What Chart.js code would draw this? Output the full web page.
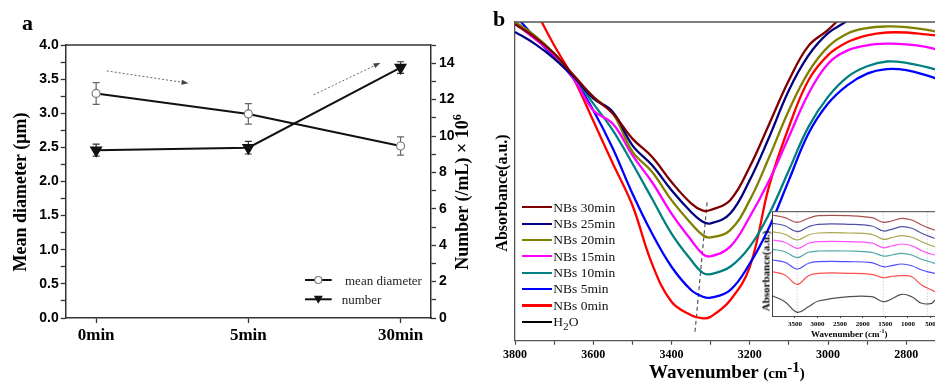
<!DOCTYPE html>
<html>
<head>
<meta charset="utf-8">
<script src="https://cdn.jsdelivr.net/npm/chart.js@4.4.0/dist/chart.umd.min.js"></script>
<style>
  html, body { margin: 0; padding: 0; background: #fff; overflow: hidden; }
  #wrap { position: relative; width: 935px; height: 386px; overflow: hidden; }
  canvas { position: absolute; }
  .t { position: absolute; font-family: "Liberation Serif", "Times New Roman", serif; white-space: nowrap; color: #000; line-height: 1; }
  .bd { font-weight: bold; }
  .rot { transform: translate(-50%, -50%) rotate(-90deg); }
  .lg { position: absolute; height: 2.2px; }
  sup, sub { line-height: 0; }
</style>
</head>
<body>
<div id="wrap">
  <canvas id="chartA" width="490" height="386" style="left:0;top:0"></canvas>
  <canvas id="chartB" width="475" height="386" style="left:490px;top:0"></canvas>
  <canvas id="chartInset" width="185" height="140" style="left:750px;top:200px"></canvas>

  <div class="t bd" style="left:22px;top:11.5px;font-size:22px">a</div>
  <div class="t bd" style="left:493px;top:8.3px;font-size:22px">b</div>

  <div class="t bd rot" style="left:20px;top:192px;font-size:18px">Mean diameter (μm)</div>
  <div class="t bd rot" style="left:462px;top:192px;font-size:18px">Number (/mL) × 10<sup style="font-size:12px">6</sup></div>
  <div class="t" style="left:345px;top:273.5px;font-size:13px;color:#222">mean diameter</div>
  <div class="t" style="left:341.7px;top:292.8px;font-size:13px;color:#222">number</div>

  <div class="t bd rot" style="left:502px;top:193px;font-size:16px">Absorbance(a.u.)</div>
  <div class="t bd" style="left:649px;top:362px;font-size:19px">Wavenumber <span style="font-size:15px">(cm<sup style="font-size:15px">-1</sup>)</span></div>

  <div id="legendB"></div>

  <div class="t bd rot" style="left:766px;top:271px;font-size:11px">Absorbance(a.u.)</div>
  <div class="t bd" style="left:811px;top:329.5px;font-size:9px">Wavenumber (cm<sup style="font-size:6px">-1</sup>)</div>
</div>

<script>
// panel a: bubble size and count over time
const timeLabels = ["0min", "5min", "30min"];
const meanDiameter = [3.29, 2.99, 2.52];
const meanDiameterErr = [0.16, 0.15, 0.135];
const bubbleNumber = [9.22, 9.36, 13.76];
const bubbleNumberErr = [0.33, 0.35, 0.32];

// panel b: FTIR spectra, O-H band
const wavenumber = [3800, 3750, 3700, 3650, 3600, 3550, 3500, 3450, 3400, 3350, 3320, 3300,
  3250, 3200, 3150, 3100, 3050, 3000, 2950, 2900, 2850, 2800, 2750, 2700];
const nbs30 = [99.3, 95.3, 90.1, 83.3, 76.5, 71.3, 63.4, 57.7, 49.8, 43.1, 40.8, 41.0,
  44.1, 54.6, 68.1, 81.7, 92.5, 97.5, 103.5, 109, 114, 118, 121, 124];
const nbs25 = [96.9, 93.2, 88.5, 82.8, 76.0, 71.8, 61.3, 55.1, 47.2, 40.4, 37.3, 36.8,
  39.9, 50.4, 64.0, 78.6, 89.5, 96.5, 100.5, 106, 111, 115, 118.5, 122];
const nbs20 = [100, 95.8, 90.1, 82.8, 76.5, 71.3, 59.3, 53.0, 44.1, 36.8, 33.1, 32.4,
  34.7, 44.1, 57.7, 72.3, 84.3, 92.2, 96.4, 98.1, 98.6, 98.4, 97.6, 96.4];
const nbs15 = [99.5, 94.8, 89.6, 82.2, 72.3, 68.1, 58.2, 49.8, 39.9, 31.6, 27.2, 26.5,
  29.5, 38.9, 50.4, 64.0, 77.5, 86.9, 91.1, 92.7, 93.2, 93.0, 92.2, 90.6];
const nbs10 = [100, 95.3, 90.1, 82.8, 74.4, 66.0, 55.6, 44.6, 33.6, 25.3, 21.3, 20.9,
  23.2, 29.5, 39.9, 53.5, 67.1, 76.5, 82.8, 86.1, 87.6, 87.2, 85.9, 84.3];
const nbs5 = [102.1, 95.3, 89.0, 82.2, 72.3, 60.3, 46.2, 33.7, 23.2, 15.9, 13.8, 13.5,
  15.9, 24.2, 35.7, 50.4, 65.0, 74.4, 80.2, 83.8, 85.2, 84.9, 83.3, 81.2];
const nbs0 = [115.2, 104.2, 92.7, 82.2, 69.0, 55.6, 42.5, 24.2, 12.2, 8.0, 7.0, 7.5,
  12.7, 23.2, 48.8, 67.1, 81.7, 89.6, 93.7, 95.8, 96.7, 96.7, 96.1, 95.5];
// dashed guide through the band minima (wavenumber, absorbance)
const peakShiftWn = [3340, 3309];
const peakShiftAbs = [2.8, 43.6];

// inset: full spectra, offset
const insetWavenumber = [4000, 3720, 3450, 3200, 2980, 2320, 1800, 1545, 1360, 1140, 915, 695, 475, 400];
const inset30 = [101, 98.3, 93.7, 97.7, 100.3, 100.3, 98.3, 93.7, 95, 97.7, 96, 91, 87, 86];
const inset25 = [92.7, 90.3, 84.3, 89.3, 91.7, 91.7, 90, 85, 86.7, 89.3, 87.7, 82.7, 78.7, 77.7];
const inset20 = [84.3, 81.7, 76, 81, 83, 83, 81.7, 76.7, 78.3, 80.3, 78.7, 74.3, 70.3, 69.3];
const inset15 = [76, 73.7, 67.7, 72.7, 74.3, 74.3, 73, 68.3, 70, 72, 70.3, 65.3, 61.7, 61];
const inset10 = [66.7, 64.3, 58.3, 63.7, 65, 65, 63.7, 60, 61, 62.7, 61, 56.7, 53.7, 52.7];
const inset5 = [56, 53.7, 47, 52.7, 54.3, 54.3, 53.3, 49.3, 50.3, 52, 50.3, 46, 43.3, 42.7];
const inset0 = [44.3, 41, 31.7, 40.3, 42.7, 42.7, 41.7, 38.3, 39.7, 40.3, 39.3, 31, 26, 24.3];
const insetH2O = [20.3, 14.3, 3.7, 9.3, 15, 19.3, 19.3, 14.3, 17, 21.7, 19.3, 12.7, 12.7, 16];
const insetGuides = [3450, 1545, 570];

const seriesNames = ["NBs 30min", "NBs 25min", "NBs 20min", "NBs 15min", "NBs 10min", "NBs 5min", "NBs 0min", "H<sub>2</sub>O"];
const seriesColors = ["#800000", "#000080", "#808000", "#ff00ff", "#008080", "#0000ff", "#ff0000", "#000000"];

const SERIF = "'Liberation Serif', 'Times New Roman', serif";
const SANS = "'Liberation Sans', Arial, sans-serif";
Chart.defaults.font.family = SERIF;
Chart.defaults.color = "#000";

const pts = (xs, ys) => xs.map((x, i) => ({ x, y: ys[i] }));
const fixSize = (w, h) => s => {
  if (w != null) s.width = w;
  if (h != null) s.height = h;
  s.paddingLeft = s.paddingRight = s.paddingTop = s.paddingBottom = 0;
};

// top frame line (the charts are boxed on top)
const frameTop = {
  id: "frameTop",
  afterDraw(chart, args, opts) {
    const { ctx, chartArea: a } = chart;
    ctx.save();
    ctx.strokeStyle = opts.color || "#333";
    ctx.lineWidth = opts.width || 1.3;
    ctx.beginPath();
    ctx.moveTo(a.left, a.top);
    ctx.lineTo(a.right, a.top);
    ctx.stroke();
    ctx.restore();
  }
};

// error bars, read from dataset.errors
const errorBars = {
  id: "errorBars",
  beforeDatasetsDraw(chart) {
    const { ctx } = chart;
    chart.data.datasets.forEach(ds => {
      if (!ds.errors) return;
      const xs = chart.scales.x, ys = chart.scales[ds.yAxisID];
      ctx.save();
      ctx.strokeStyle = ds.errorColor;
      ctx.lineWidth = 1.2;
      ds.data.forEach((p, i) => {
        const x = xs.getPixelForValue(p.x);
        const t = ys.getPixelForValue(p.y + ds.errors[i]);
        const b = ys.getPixelForValue(p.y - ds.errors[i]);
        ctx.beginPath();
        ctx.moveTo(x, t); ctx.lineTo(x, b);
        ctx.moveTo(x - 3.5, t); ctx.lineTo(x + 3.5, t);
        ctx.moveTo(x - 3.5, b); ctx.lineTo(x + 3.5, b);
        ctx.stroke();
      });
      ctx.restore();
    });
  }
};

// dotted trend arrows in panel a, in (category, left axis) units
const trendArrows = [
  { from: [0.07, 3.62], to: [0.607, 3.44] },
  { from: [1.429, 3.27], to: [1.868, 3.74] }
];
const arrowsPlugin = {
  id: "arrows",
  afterDatasetsDraw(chart) {
    const { ctx } = chart;
    const xs = chart.scales.x, ys = chart.scales.yL;
    ctx.save();
    trendArrows.forEach(a => {
      const x1 = xs.getPixelForValue(a.from[0]), y1 = ys.getPixelForValue(a.from[1]);
      const x2 = xs.getPixelForValue(a.to[0]), y2 = ys.getPixelForValue(a.to[1]);
      const ang = Math.atan2(y2 - y1, x2 - x1);
      ctx.strokeStyle = "#666";
      ctx.lineWidth = 1;
      ctx.setLineDash([2, 2]);
      ctx.beginPath();
      ctx.moveTo(x1, y1);
      ctx.lineTo(x2 - 4 * Math.cos(ang), y2 - 4 * Math.sin(ang));
      ctx.stroke();
      ctx.setLineDash([]);
      ctx.fillStyle = "#444";
      ctx.beginPath();
      ctx.moveTo(x2, y2);
      ctx.lineTo(x2 - 7 * Math.cos(ang) + 2.5 * Math.sin(ang), y2 - 7 * Math.sin(ang) - 2.5 * Math.cos(ang));
      ctx.lineTo(x2 - 7 * Math.cos(ang) - 2.5 * Math.sin(ang), y2 - 7 * Math.sin(ang) + 2.5 * Math.cos(ang));
      ctx.closePath();
      ctx.fill();
    });
    ctx.restore();
  }
};

// legend samples for panel a (text is html)
const legendA = {
  id: "legendA",
  afterDraw(chart) {
    const { ctx, chartArea: a } = chart;
    const x0 = a.right - 126, x1 = a.right - 99.3, xm = a.right - 112.7;
    const rows = [a.bottom - 38, a.bottom - 18.7];
    ctx.save();
    ctx.strokeStyle = "#111";
    ctx.lineWidth = 2;
    rows.forEach(y => {
      ctx.beginPath(); ctx.moveTo(x0, y); ctx.lineTo(x1, y); ctx.stroke();
    });
    ctx.fillStyle = "#fff";
    ctx.strokeStyle = "#777";
    ctx.lineWidth = 1.2;
    ctx.beginPath(); ctx.arc(xm, rows[0], 3.5, 0, Math.PI * 2); ctx.fill(); ctx.stroke();
    ctx.fillStyle = "#111";
    ctx.beginPath();
    ctx.moveTo(xm - 4.5, rows[1] - 3.5);
    ctx.lineTo(xm + 4.5, rows[1] - 3.5);
    ctx.lineTo(xm, rows[1] + 4.5);
    ctx.closePath(); ctx.fill();
    ctx.restore();
  }
};

new Chart(document.getElementById("chartA"), {
  type: "line",
  data: {
    datasets: [
      {
        label: "mean diameter",
        data: pts(timeLabels.map((_, i) => i), meanDiameter),
        errors: meanDiameterErr, errorColor: "#666",
        yAxisID: "yL",
        borderColor: "#111", borderWidth: 2,
        pointStyle: "circle", pointRadius: 4,
        pointBackgroundColor: "#fff", pointBorderColor: "#777", pointBorderWidth: 1.2
      },
      {
        label: "number",
        data: pts(timeLabels.map((_, i) => i), bubbleNumber),
        errors: bubbleNumberErr, errorColor: "#333",
        yAxisID: "yR",
        borderColor: "#111", borderWidth: 2,
        pointStyle: "triangle", pointRotation: 180, pointRadius: 5.5,
        pointBackgroundColor: "#111", pointBorderColor: "#111"
      }
    ]
  },
  options: {
    responsive: false,
    animation: false,
    layout: { padding: { top: 45, left: 0, right: 0, bottom: 0 } },
    plugins: { legend: { display: false }, tooltip: { enabled: false }, frameTop: { color: "#333", width: 1.5 } },
    scales: {
      x: {
        type: "linear", min: -0.2, max: 2.2,
        afterBuildTicks: s => { s.ticks = timeLabels.map((_, i) => ({ value: i })); },
        afterFit: fixSize(null, 68),
        ticks: { callback: v => timeLabels[v], font: { family: SERIF, size: 17, weight: "bold" }, padding: 2, maxRotation: 0 },
        grid: { drawOnChartArea: false, tickLength: 5, color: "#333", tickWidth: 1.3 },
        border: { color: "#333", width: 1.5 }
      },
      yL: {
        position: "left", min: 0, max: 4,
        afterFit: fixSize(65.7, null),
        ticks: {
          stepSize: 0.25, autoSkip: false, padding: 2,
          callback: v => (Math.abs(v * 2 - Math.round(v * 2)) < 1e-6 ? v.toFixed(1) : ""),
          font: { family: SANS, size: 14, weight: "bold" }
        },
        grid: { drawOnChartArea: false, tickLength: 5, color: "#333", tickWidth: 1.3 },
        border: { color: "#333", width: 1.5 }
      },
      yR: {
        position: "right", min: 0, max: 15,
        afterFit: fixSize(59, null),
        ticks: {
          stepSize: 1, autoSkip: false, padding: 3,
          callback: v => (v % 2 === 0 ? String(v) : ""),
          font: { family: SANS, size: 14, weight: "bold" }
        },
        grid: { drawOnChartArea: false, tickLength: 5, color: "#333", tickWidth: 1.3 },
        border: { color: "#333", width: 1.5 }
      }
    }
  },
  plugins: [errorBars, arrowsPlugin, legendA, frameTop]
});

// panel b
const mainSeries = [nbs30, nbs25, nbs20, nbs15, nbs10, nbs5, nbs0];
const datasetsB = mainSeries.map((ys, i) => ({
  label: seriesNames[i],
  data: pts(wavenumber, ys),
  borderColor: seriesColors[i],
  borderWidth: 2.3,
  pointRadius: 0,
  tension: 0.4,
  fill: false
}));
datasetsB.push({
  label: "peak shift",
  data: pts(peakShiftWn, peakShiftAbs),
  borderColor: "#555",
  borderWidth: 1.2,
  borderDash: [4, 3],
  pointRadius: 0
});

new Chart(document.getElementById("chartB"), {
  type: "line",
  data: { datasets: datasetsB },
  options: {
    responsive: false,
    animation: false,
    layout: { padding: { top: 22, left: 0, right: 0, bottom: 0 } },
    plugins: { legend: { display: false }, tooltip: { enabled: false }, frameTop: { color: "#555", width: 1.3 } },
    scales: {
      x: {
        type: "linear", reverse: true, min: 2650, max: 3800,
        afterBuildTicks: s => {
          const t = [];
          for (let v = 3800; v >= 2700; v -= 100) t.push({ value: v });
          s.ticks = t;
        },
        afterFit: fixSize(null, 45.3),
        ticks: { callback: v => (v % 200 === 0 ? String(v) : ""), font: { family: SERIF, size: 12, weight: "bold" }, padding: 3, maxRotation: 0, autoSkip: false },
        grid: { drawOnChartArea: false, tickLength: 4, color: "#444", tickWidth: 1.2 },
        border: { color: "#555", width: 1.3 }
      },
      y: {
        min: 0, max: 100,
        afterFit: fixSize(25, null),
        ticks: { display: false },
        grid: { drawOnChartArea: false, drawTicks: false },
        border: { color: "#555", width: 1.3 }
      }
    }
  },
  plugins: [frameTop]
});

// legend for panel b
const legendBox = document.getElementById("legendB");
seriesNames.forEach((name, i) => {
  const y = 207.3 + i * 16.36;
  const line = document.createElement("div");
  line.className = "lg";
  line.style.cssText = `left:522px;top:${y - 1.1}px;width:30px;background:${seriesColors[i]}`;
  legendBox.appendChild(line);
  const txt = document.createElement("div");
  txt.className = "t";
  txt.style.cssText = `left:553.3px;top:${y - 6.75}px;font-size:13.5px;color:#111`;
  txt.innerHTML = name;
  legendBox.appendChild(txt);
});

// inset
const insetSeries = [inset30, inset25, inset20, inset15, inset10, inset5, inset0, insetH2O];
const insetBg = {
  id: "insetBg",
  beforeDraw(chart) {
    const { ctx, chartArea: a } = chart;
    ctx.save();
    ctx.fillStyle = "#fff";
    ctx.fillRect(a.left, a.top, a.right - a.left, a.bottom - a.top);
    ctx.restore();
  },
  beforeDatasetsDraw(chart) {
    const { ctx, chartArea: a } = chart;
    const xs = chart.scales.x;
    ctx.save();
    ctx.strokeStyle = "#c8c8c8";
    ctx.lineWidth = 0.8;
    ctx.setLineDash([1.5, 1.5]);
    insetGuides.forEach(g => {
      const x = xs.getPixelForValue(g);
      ctx.beginPath(); ctx.moveTo(x, a.top); ctx.lineTo(x, a.bottom); ctx.stroke();
    });
    ctx.restore();
  }
};

new Chart(document.getElementById("chartInset"), {
  type: "line",
  data: {
    datasets: insetSeries.map((ys, i) => ({
      label: seriesNames[i],
      data: pts(insetWavenumber, ys),
      borderColor: seriesColors[i] + "b0",
      borderWidth: 1.2,
      pointRadius: 0,
      tension: 0.4
    }))
  },
  options: {
    responsive: false,
    animation: false,
    layout: { padding: { top: 11.7, left: 0, right: 0, bottom: 0 } },
    plugins: { legend: { display: false }, tooltip: { enabled: false }, frameTop: { color: "#444", width: 1 } },
    scales: {
      x: {
        type: "linear", reverse: true, min: 400, max: 4000,
        afterBuildTicks: s => {
          const t = [];
          for (let v = 3500; v >= 500; v -= 500) t.push({ value: v });
          s.ticks = t;
        },
        afterFit: fixSize(null, 24),
        ticks: { callback: v => String(v), font: { family: SERIF, size: 7, weight: "bold" }, padding: 2, maxRotation: 0, autoSkip: false },
        grid: { drawOnChartArea: false, tickLength: 2, color: "#444" },
        border: { color: "#444", width: 1 }
      },
      y: {
        min: 0, max: 104.3,
        afterFit: fixSize(22.3, null),
        ticks: { display: false },
        grid: { drawOnChartArea: false, drawTicks: false },
        border: { color: "#444", width: 1 }
      }
    }
  },
  plugins: [insetBg, frameTop]
});
</script>
</body>
</html>
